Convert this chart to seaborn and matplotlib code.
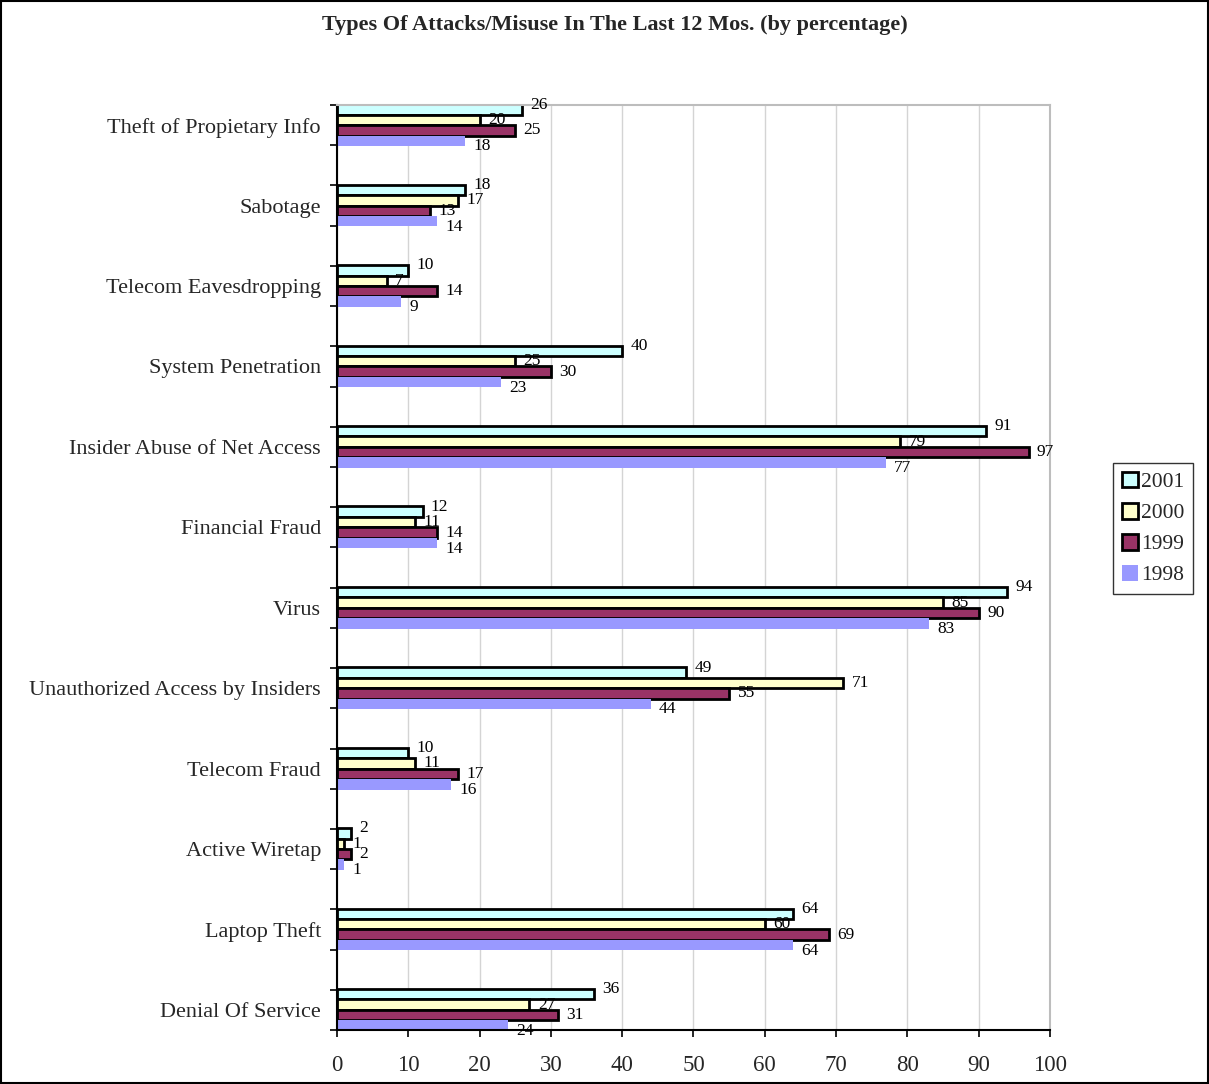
import matplotlib
matplotlib.use("Agg")
import matplotlib.pyplot as plt
import seaborn as sns
import pandas as pd
import numpy as np
from matplotlib.patches import Rectangle

categories = ["Theft of Propietary Info", "Sabotage", "Telecom Eavesdropping",
              "System Penetration", "Insider Abuse of Net Access", "Financial Fraud",
              "Virus", "Unauthorized Access by Insiders", "Telecom Fraud",
              "Active Wiretap", "Laptop Theft", "Denial Of Service"]
years = ["2001", "2000", "1999", "1998"]
v2001 = [26, 18, 10, 40, 91, 12, 94, 49, 10, 2, 64, 36]
v2000 = [20, 17, 7, 25, 79, 11, 85, 71, 11, 1, 60, 27]
v1999 = [25, 13, 14, 30, 97, 14, 90, 55, 17, 2, 69, 31]
v1998 = [18, 14, 9, 23, 77, 14, 83, 44, 16, 1, 64, 24]
xticks = [0, 10, 20, 30, 40, 50, 60, 70, 80, 90, 100]
title = "Types Of Attacks/Misuse In The Last 12 Mos. (by percentage)"

colors = {"2001": "#CCFFFF", "2000": "#FFFFCC", "1999": "#993366", "1998": "#9999FF"}
edges = {"2001": "black", "2000": "black", "1999": "black", "1998": "none"}
label_dy = {"2001": 3.5, "2000": 0, "1999": 0, "1998": -4}

rows = []
for yr, vals in zip(years, [v2001, v2000, v1999, v1998]):
    for c, v in zip(categories, vals):
        rows.append({"cat": c, "year": yr, "val": v})
df = pd.DataFrame(rows)

sns.set_style("white")
plt.rcParams["font.family"] = ["Liberation Serif", "DejaVu Serif"]

fig = plt.figure(figsize=(12.09, 10.84), dpi=100)
ax = fig.add_axes([0.2787, 0.0498, 0.8685 - 0.2787, 0.9031 - 0.0498])

sns.barplot(data=df, y="cat", x="val", hue="year", hue_order=years, order=categories,
            orient="h", palette=colors, width=0.52, ax=ax, legend=True, saturation=1)

for cont, yr in zip(ax.containers, years):
    for p in cont.patches:
        p.set_edgecolor(edges[yr])
        p.set_linewidth(2.0 if edges[yr] != "none" else 0)
        w = p.get_width()
        yc = p.get_y() + p.get_height() / 2
        ax.annotate(f"{int(round(w))}", xy=(w, yc), xytext=(6, label_dy[yr]),
                    textcoords="offset points", ha="left", va="center", fontsize=12.5,
                    color="black", annotation_clip=False)

n = len(categories)
ax.set_ylim(n - 1 + 0.25, -0.25)
ax.set_xlim(0, 100)
ax.set_xticks(xticks)
ax.set_xticklabels([str(t) for t in xticks])
ax.set_xlabel("")
ax.set_ylabel("")

minor = []
for i in range(n):
    minor += [i - 0.25, i + 0.25]
ax.set_yticks(minor, minor=True)
ax.tick_params(axis="y", which="major", length=0, pad=11.5, labelsize=16)
ax.tick_params(axis="y", which="minor", length=5, width=1.2, direction="out", color="black", left=True)
ax.tick_params(axis="x", which="major", length=5, width=1.2, direction="out", color="black",
               bottom=True, pad=13, labelsize=16.5)

ax.xaxis.grid(True, color="#D4D4D4", linewidth=1)
ax.yaxis.grid(False)
ax.set_axisbelow(True)

for s in ["left", "bottom"]:
    ax.spines[s].set_color("black")
    ax.spines[s].set_linewidth(1.5)
for s in ["top", "right"]:
    ax.spines[s].set_color("#BDBDBD")
    ax.spines[s].set_linewidth(1.5)
    ax.spines[s].set_visible(True)

leg = ax.get_legend()
if leg is not None:
    leg.remove()
handles = [Rectangle((0, 0), 1, 1, facecolor=colors[y], edgecolor=edges[y],
                     linewidth=2.0 if edges[y] != "none" else 0) for y in years]
fig.legend(handles, years, loc="upper left", bbox_to_anchor=(0.9206, 0.5729),
           bbox_transform=fig.transFigure, borderaxespad=0, fancybox=False,
           edgecolor="#333333", framealpha=1, fontsize=15.5, handlelength=0.75,
           handleheight=0.75, handletextpad=0.15, labelspacing=0.5, borderpad=0.4)

fig.text(0.5087, 0.977, title, ha="center", va="center", fontsize=16, fontweight="bold")

fig.patches.append(Rectangle((0.0005, 0.0005), 0.999, 0.999, transform=fig.transFigure,
                             fill=False, edgecolor="black", linewidth=1.5))

fig.savefig("out.png", dpi=100)
